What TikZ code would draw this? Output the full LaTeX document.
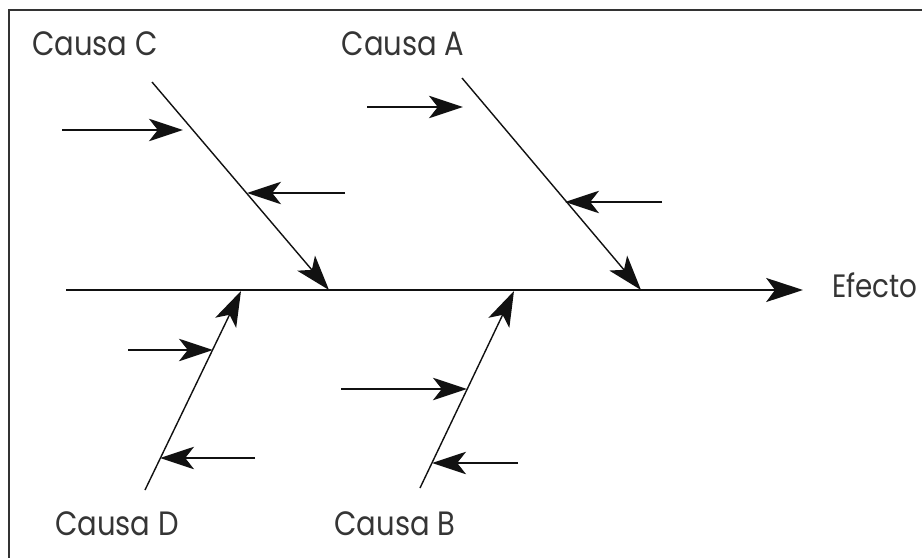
\documentclass[tikz,border=0pt]{standalone}
\usepackage{fontspec}
\setmainfont{Poppins}
\newfontfamily\labelfont{Poppins}[FakeStretch=0.86]
\usepackage{tikz}
\usetikzlibrary{arrows.meta}
\definecolor{ink}{HTML}{111111}
\definecolor{frame}{HTML}{333333}
\tikzset{
	bone/.style={line width=1pt, ink, -{Stealth[length=8.8mm, width=5.8mm, inset=2.2mm]}},
	spine/.style={line width=1.5pt, ink, -{Stealth[length=9.2mm, width=6mm, inset=2.2mm]}},
	sub/.style={line width=1.3pt, ink, -{Stealth[length=8.5mm, width=5.6mm, inset=2.2mm]}},
	cause/.style={font=\labelfont\fontsize{24}{28}\selectfont, text=ink!85, inner sep=0pt, anchor=base},
}

\begin{document}
\begin{tikzpicture}[x=0.025cm, y=-0.025cm]
			\useasboundingbox (0,0) rectangle (922,558);
			\draw[frame, line width=2pt] (9,558) -- (9,10) -- (922,10);
			% espina principal
			\coordinate (s0) at (66,290);
			\coordinate (s1) at (803,290);
			\node[cause, anchor=base west, font=\labelfont\fontsize{23}{26}\selectfont] (ef) at (832,297) {Efecto};
			\draw[spine] (s0) -- (s1);
			% causas de arriba
			\node[cause] (cc) at (95,56) {Causa C};
			\node[cause] (ca) at (403,56) {Causa A};
			\coordinate (c0) at (152,82);   \coordinate (c1) at (329,290);
			\coordinate (a0) at (462,78);   \coordinate (a1) at (641,290);
			\draw[bone] (c0) -- (c1);
			\draw[bone] (a0) -- (a1);
			% causas de abajo
			\node[cause] (cd) at (117,535) {Causa D};
			\node[cause] (cb) at (395,535) {Causa B};
			\coordinate (d0) at (145,490);  \coordinate (d1) at (241,291);
			\coordinate (b0) at (420,488);  \coordinate (b1) at (514,291);
			\draw[bone] (d0) -- (d1);
			\draw[bone] (b0) -- (b1);
			% subcausas
			\draw[sub] (62,130) -- (183,130);
			\draw[sub] (345,193) -- (247,193);
			\draw[sub] (367,107) -- (463,107);
			\draw[sub] (662,202) -- (565,202);
			\draw[sub] (128,350) -- (213,350);
			\draw[sub] (255,458) -- (160,458);
			\draw[sub] (341,389) -- (467,389);
			\draw[sub] (518,463) -- (432,463);
		\end{tikzpicture}
\end{document}
